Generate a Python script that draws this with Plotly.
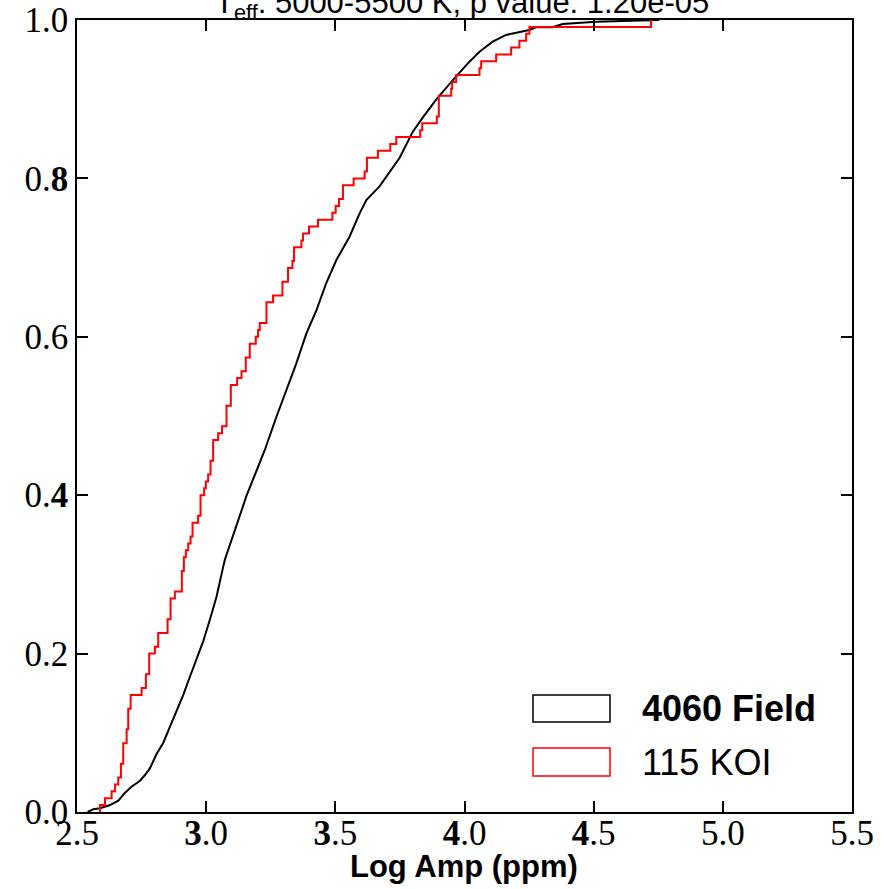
import plotly.graph_objects as go

# ---- data ----
# Field sample (4060 stars): cumulative distribution sampled along the curve
field_x = [2.541, 2.563, 2.589, 2.602, 2.628, 2.660, 2.686, 2.711, 2.744, 2.763,
           2.782, 2.808, 2.834, 2.860, 2.885, 2.911, 2.937, 2.963, 2.988, 3.014,
           3.040, 3.066, 3.072, 3.157, 3.227, 3.272, 3.311, 3.349, 3.388, 3.427,
           3.465, 3.504, 3.555, 3.594, 3.620, 3.671, 3.749, 3.800, 3.839, 3.891,
           3.955, 4.013, 4.058, 4.109, 4.161, 4.213, 4.251, 4.277, 4.341, 4.380,
           4.509, 4.754]
field_cdf = [0.000, 0.0034, 0.0047, 0.006, 0.0088, 0.0143, 0.0244, 0.032, 0.0395, 0.0467,
             0.055, 0.0732, 0.0875, 0.1077, 0.1266, 0.1477, 0.1708, 0.1928, 0.215, 0.2424,
             0.2719, 0.3098, 0.3182, 0.400, 0.4571, 0.4991, 0.5328, 0.5665, 0.6044, 0.6338,
             0.6679, 0.697, 0.7264, 0.7559, 0.7727, 0.790, 0.826, 0.859, 0.8771, 0.8999,
             0.9242, 0.9453, 0.960, 0.9726, 0.9811, 0.9848, 0.9874, 0.9908, 0.9908, 0.995,
             0.9979, 1.000]

# KOI sample (115 stars): step locations and cumulative counts after each step
koi_x = [2.5889, 2.6082, 2.6341, 2.6469, 2.6597, 2.6701, 2.6790, 2.6921, 2.6983, 2.7076,
         2.7501, 2.7667, 2.7795, 2.8015, 2.8143, 2.8506, 2.8622, 2.8789, 2.9059, 2.9137,
         2.9214, 2.9303, 2.9396, 2.9473, 2.9689, 2.9782, 2.9921, 2.9987, 3.0076, 3.0169,
         3.0269, 3.0463, 3.0613, 3.0787, 3.0954, 3.1197, 3.1367, 3.1534, 3.1688, 3.1920,
         3.2009, 3.2075, 3.2334, 3.2589, 3.2952, 3.3169, 3.3339, 3.3401, 3.3687, 3.3749,
         3.3981, 3.4329, 3.4885, 3.5013, 3.5141, 3.5295, 3.5709, 3.6134, 3.6223, 3.6648,
         3.7128, 3.7359, 3.8287, 3.8365, 3.8929, 3.9006, 3.9486, 3.9524, 3.9679, 4.0580,
         4.0646, 4.1226, 4.1805, 4.2126, 4.2385, 4.2513, 4.7218]
koi_count = [1, 2, 3, 4, 5, 7, 10, 12, 15, 17,
             18, 20, 23, 24, 26, 28, 31, 32, 35, 37,
             38, 39, 40, 42, 43, 46, 47, 48, 49, 51,
             54, 55, 56, 59, 62, 63, 64, 66, 68, 69,
             70, 71, 74, 75, 77, 79, 80, 82, 83, 84,
             85, 86, 87, 88, 89, 91, 92, 93, 95, 96,
             97, 98, 99, 100, 101, 104, 105, 106, 107, 108,
             109, 110, 111, 112, 113, 114, 115]
koi_total = 115
field_total = 4060

x_tickvals = [2.5, 3.0, 3.5, 4.0, 4.5, 5.0, 5.5]
x_ticktext = ["2.5", "<b>3</b>.0", "<b>3</b>.5", "<b>4</b>.0", "<b>4</b>.5", "5.0", "5.5"]
y_tickvals = [0.0, 0.2, 0.4, 0.6, 0.8, 1.0]
y_ticktext = ["0.0", "0.2", "0.<b>4</b>", "0.6", "0.<b>8</b>", "1.0"]

title_text = "T<sub>eff</sub>: 5000-5500 K, p value: 1.20e-05"
x_title = "<b>Log Amp (ppm)</b>"
legend_names = ["<b>%d Field</b>" % field_total, "%d KOI" % koi_total]

# ---- figure ----
fig = go.Figure()
fig.add_trace(go.Scatter(x=field_x, y=field_cdf, mode="lines",
                         line=dict(color="black", width=2), showlegend=False))
kx = [koi_x[0]] + koi_x
ky = [0.0] + [c / koi_total for c in koi_count]
fig.add_trace(go.Scatter(x=kx, y=ky, mode="lines", line_shape="hv",
                         line=dict(color="#ff0000", width=2), showlegend=False))

W, H = 887, 889
L, R, T, B = 77, 35, 20, 77
pw, ph = W - L - R, H - T - B

def px2x(px):
    return (px - L) / pw

def py2y(py):
    return (H - B - py) / ph

axis_common = dict(showgrid=False, zeroline=False, showline=True, linecolor="black",
                   linewidth=1.5, mirror="ticks", ticks="inside", ticklen=11,
                   tickwidth=1.5, tickcolor="black", automargin=False,
                   tickfont=dict(family="Liberation Serif", size=35, color="black"))

fig.update_xaxes(range=[2.5, 5.5], tickmode="array", tickvals=x_tickvals,
                 ticktext=x_ticktext, ticklabelstandoff=-11, **axis_common)
fig.update_yaxes(range=[0, 1], tickmode="array", tickvals=y_tickvals,
                 ticktext=y_ticktext, **axis_common)

# legend boxes and labels
legend_colors = ["black", "#ff0000"]
legend_box_py = [(695, 722), (748, 776)]
for name, col, (ytop, ybot) in zip(legend_names, legend_colors, legend_box_py):
    fig.add_shape(type="rect", xref="paper", yref="paper",
                  x0=px2x(533), x1=px2x(610), y0=py2y(ybot), y1=py2y(ytop),
                  line=dict(color=col, width=1.5), fillcolor="rgba(0,0,0,0)")
    fig.add_annotation(xref="paper", yref="paper", x=px2x(640), y=py2y((ytop + ybot) / 2),
                       xanchor="left", yanchor="middle", text=name, showarrow=False,
                       font=dict(family="Liberation Sans", size=36, color="black"))

# x-axis title
fig.add_annotation(xref="paper", yref="paper", x=px2x(464), y=py2y(866),
                   xanchor="center", yanchor="middle", text=x_title, showarrow=False,
                   font=dict(family="Liberation Sans", size=31, color="black"))

# title (cut at the top edge, as in the reference)
fig.add_annotation(xref="paper", yref="paper", x=px2x(462), y=1 + (T - 5) / ph,
                   xanchor="center", yanchor="middle", text=title_text, showarrow=False,
                   font=dict(family="Liberation Sans", size=31, color="black"))

fig.update_layout(width=W, height=H, margin=dict(l=L, r=R, t=T, b=B, autoexpand=False),
                  paper_bgcolor="white", plot_bgcolor="white")

fig.write_html("out.html")
